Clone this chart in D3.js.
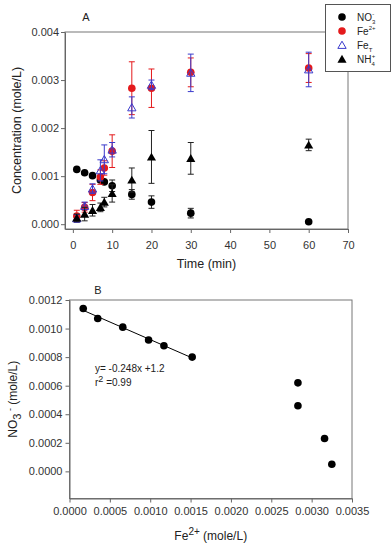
<!DOCTYPE html>
<html>
<head>
<meta charset="utf-8">
<script src="https://cdn.jsdelivr.net/npm/d3@7"></script>
<style>
  body { margin: 0; background: #fff; }
  svg { font-family: "Liberation Sans", Arial, sans-serif; }
  .tick text { fill: #333; font-size: 11px; }
  .axis path, .axis line { stroke: #666; }
</style>
</head>
<body>
<div id="chart"></div>
<script>
// Data
var times = [1, 3, 5, 7, 8, 10, 15, 20, 30, 60];

var no3 = [0.00114, 0.00107, 0.00101, 0.00092, 0.00088, 0.00080, 0.00062, 0.00046, 0.00023, 0.00005];
var no3Err = [0.00003, 0.00002, 0.00002, 0.00004, 0.00003, 0.00012, 0.00010, 0.00013, 0.00010, 0.00002];

var fe2 = [0.00017, 0.00035, 0.00066, 0.00098, 0.00117, 0.00152, 0.00283, 0.00283, 0.00316, 0.00325];
var fe2Err = [0.00012, 0.00010, 0.00017, 0.00015, 0.00015, 0.00034, 0.00055, 0.00040, 0.00030, 0.00030];

var feT = [0.00012, 0.00038, 0.00074, 0.00112, 0.00135, 0.00155, 0.00243, 0.00290, 0.00315, 0.00322];
var feTErr = [0.00008, 0.00008, 0.00010, 0.00022, 0.00030, 0.00015, 0.00022, 0.00010, 0.00039, 0.00036];

var nh4 = [0.00013, 0.00021, 0.00029, 0.00035, 0.00046, 0.00064, 0.00092, 0.00140, 0.00137, 0.00165];
var nh4Err = [0.00008, 0.00014, 0.00012, 0.00009, 0.00010, 0.00018, 0.00025, 0.00055, 0.00033, 0.00012];

// panel B: NO3- vs Fe2+, first six points used for the fitted line
var fitCount = 6;

var timeTicks = [0, 10, 20, 30, 40, 50, 60, 70];
var concTicks = [0, 0.001, 0.002, 0.003, 0.004];
var feTicks = [0, 0.0005, 0.001, 0.0015, 0.002, 0.0025, 0.003, 0.0035];
var no3Ticks = [0, 0.0002, 0.0004, 0.0006, 0.0008, 0.001, 0.0012];

var svgWidth = 392;
var svgHeight = 550;

var svg = d3.select("#chart").append("svg")
  .attr("width", svgWidth)
  .attr("height", svgHeight);

var red = "#e41a1c";
var blue = "#3b3bcc";

// ---------- Panel A ----------
var A = { left: 65, right: 348, top: 32, bottom: 229 };

var xA = d3.scaleLinear().domain([-2, 70]).range([A.left, A.right]);
var yA = d3.scaleLinear().domain([-0.0001, 0.004]).range([A.bottom, A.top]);

svg.append("rect")
  .attr("x", A.left).attr("y", A.top)
  .attr("width", A.right - A.left).attr("height", A.bottom - A.top)
  .attr("fill", "none").attr("stroke", "#777");

svg.append("g").attr("class", "axis")
  .attr("transform", `translate(0, ${A.bottom})`)
  .call(d3.axisBottom(xA).tickValues(timeTicks).tickSize(4).tickSizeOuter(0).tickPadding(8));

svg.append("g").attr("class", "axis")
  .attr("transform", `translate(${A.left}, 0)`)
  .call(d3.axisLeft(yA).tickValues(concTicks).tickFormat(d3.format(".3f")).tickSize(4).tickSizeOuter(0).tickPadding(2));

function errorBars(vals, errs, color) {
  var g = svg.append("g").attr("stroke", color).attr("stroke-width", 1);
  times.forEach(function(t, i) {
    var x = xA(t), y1 = yA(vals[i] - errs[i]), y2 = yA(vals[i] + errs[i]);
    g.append("line").attr("x1", x).attr("x2", x).attr("y1", y1).attr("y2", y2);
    g.append("line").attr("x1", x - 3).attr("x2", x + 3).attr("y1", y1).attr("y2", y1);
    g.append("line").attr("x1", x - 3).attr("x2", x + 3).attr("y1", y2).attr("y2", y2);
  });
}

var triFilled = d3.symbol().type(d3.symbolTriangle).size(36);
var triOpen = d3.symbol().type(d3.symbolTriangle).size(30);

// NO3-
errorBars(no3, no3Err, "#222");
svg.append("g").selectAll("circle")
  .data(times).enter().append("circle")
  .attr("cx", d => xA(d))
  .attr("cy", (d, i) => yA(no3[i]))
  .attr("r", 3.8)
  .attr("fill", "#000");

// Fe2+
errorBars(fe2, fe2Err, red);
svg.append("g").selectAll("circle")
  .data(times).enter().append("circle")
  .attr("cx", d => xA(d))
  .attr("cy", (d, i) => yA(fe2[i]))
  .attr("r", 3.8)
  .attr("fill", red);

// FeT
errorBars(feT, feTErr, blue);
svg.append("g").selectAll("path")
  .data(times).enter().append("path")
  .attr("d", triOpen)
  .attr("transform", (d, i) => `translate(${xA(d)}, ${yA(feT[i]) + 1})`)
  .attr("fill", "none")
  .attr("stroke", blue)
  .attr("stroke-width", 1);

// NH4+
errorBars(nh4, nh4Err, "#222");
svg.append("g").selectAll("path")
  .data(times).enter().append("path")
  .attr("d", triFilled)
  .attr("transform", (d, i) => `translate(${xA(d)}, ${yA(nh4[i]) + 1})`)
  .attr("fill", "#000");

// titles
svg.append("text").attr("x", 86).attr("y", 21).attr("text-anchor", "middle")
  .style("font-size", "11px").attr("fill", "#222").text("A");

svg.append("text")
  .attr("transform", `translate(21, ${(A.top + A.bottom) / 2}) rotate(-90)`)
  .attr("text-anchor", "middle")
  .style("font-size", "12.5px").attr("fill", "#222")
  .text("Concentration (mole/L)");

svg.append("text")
  .attr("x", (A.left + A.right) / 2).attr("y", 268)
  .attr("text-anchor", "middle")
  .style("font-size", "12.5px").attr("fill", "#222")
  .text("Time (min)");

// legend
var legend = svg.append("g");
legend.append("rect")
  .attr("x", 325.5).attr("y", 4.5).attr("width", 65).attr("height", 67)
  .attr("fill", "#fff").attr("stroke", "#555");

var legendRows = [
  { base: "NO", sub: "3", sup: "-", mark: "circle", color: "#000" },
  { base: "Fe", sub: "", sup: "2+", mark: "circle", color: red },
  { base: "Fe", sub: "T", sup: "", mark: "open", color: blue },
  { base: "NH", sub: "4", sup: "+", mark: "tri", color: "#000" }
];

legendRows.forEach(function(r, i) {
  var cy = 17 + i * 14;
  if (r.mark === "circle") {
    legend.append("circle").attr("cx", 342).attr("cy", cy).attr("r", 3.8).attr("fill", r.color);
  } else if (r.mark === "open") {
    legend.append("path").attr("d", triOpen).attr("transform", `translate(342, ${cy + 1})`)
      .attr("fill", "none").attr("stroke", r.color);
  } else {
    legend.append("path").attr("d", triFilled).attr("transform", `translate(342, ${cy + 1})`)
      .attr("fill", r.color);
  }
  var t = legend.append("text").attr("x", 357).attr("y", cy + 3.5)
    .style("font-size", "10px").attr("fill", "#222");
  t.append("tspan").text(r.base);
  if (r.sub) t.append("tspan").attr("dy", 3).style("font-size", "6px").text(r.sub);
  if (r.sup) t.append("tspan").attr("dy", r.sub ? -8 : -5).attr("dx", r.sub ? -3 : 0).style("font-size", "6px").text(r.sup);
});

// ---------- Panel B ----------
var B = { left: 69.5, right: 352, top: 300, bottom: 498.5 };

var xB = d3.scaleLinear().domain([0, 0.0035]).range([B.left, B.right]);
var yB = d3.scaleLinear().domain([-0.00019, 0.0012]).range([B.bottom, B.top]);

svg.append("rect")
  .attr("x", B.left).attr("y", B.top)
  .attr("width", B.right - B.left).attr("height", B.bottom - B.top)
  .attr("fill", "none").attr("stroke", "#777");

svg.append("g").attr("class", "axis")
  .attr("transform", `translate(0, ${B.bottom})`)
  .call(d3.axisBottom(xB).tickValues(feTicks).tickFormat(d3.format(".4f")).tickSize(4).tickSizeOuter(0).tickPadding(5));

svg.append("g").attr("class", "axis")
  .attr("transform", `translate(${B.left}, 0)`)
  .call(d3.axisLeft(yB).tickValues(no3Ticks).tickFormat(d3.format(".4f")).tickSize(4).tickSizeOuter(0).tickPadding(3));

// least-squares line through the first points
var fx = fe2.slice(0, fitCount), fy = no3.slice(0, fitCount);
var mx = d3.mean(fx), my = d3.mean(fy);
var slope = d3.sum(fx, (v, i) => (v - mx) * (fy[i] - my)) / d3.sum(fx, v => (v - mx) * (v - mx));
var icpt = my - slope * mx;
var x0 = d3.min(fx), x1 = d3.max(fx);
svg.append("line")
  .attr("x1", xB(x0)).attr("y1", yB(icpt + slope * x0))
  .attr("x2", xB(x1)).attr("y2", yB(icpt + slope * x1))
  .attr("stroke", "#000").attr("stroke-width", 1);

svg.append("g").selectAll("circle")
  .data(fe2).enter().append("circle")
  .attr("cx", d => xB(d))
  .attr("cy", (d, i) => yB(no3[i]))
  .attr("r", 3.8)
  .attr("fill", "#000");

svg.append("text").attr("x", 98).attr("y", 294).attr("text-anchor", "middle")
  .style("font-size", "11px").attr("fill", "#222").text("B");

svg.append("text").attr("x", 95).attr("y", 372)
  .style("font-size", "10px").attr("fill", "#222").text("y= -0.248x +1.2");

var r2 = svg.append("text").attr("x", 95).attr("y", 386)
  .style("font-size", "10px").attr("fill", "#222");
r2.append("tspan").text("r");
r2.append("tspan").attr("dy", -4).style("font-size", "9px").text("2");
r2.append("tspan").attr("dy", 4).text(" =0.99");

var yl = svg.append("text")
  .attr("transform", `translate(17, ${(B.top + B.bottom) / 2}) rotate(-90)`)
  .attr("text-anchor", "middle")
  .style("font-size", "12px").attr("fill", "#222");
yl.append("tspan").text("NO");
yl.append("tspan").attr("dy", 4).style("font-size", "11px").text("3");
yl.append("tspan").attr("dy", -8).style("font-size", "9px").text(" -");
yl.append("tspan").attr("dy", 4).text(" (mole/L)");

var xl = svg.append("text")
  .attr("x", (B.left + B.right) / 2).attr("y", 540)
  .attr("text-anchor", "middle")
  .style("font-size", "12px").attr("fill", "#222");
xl.append("tspan").text("Fe");
xl.append("tspan").attr("dy", -5).style("font-size", "10px").text("2+");
xl.append("tspan").attr("dy", 5).text(" (mole/L)");
</script>
</body>
</html>
